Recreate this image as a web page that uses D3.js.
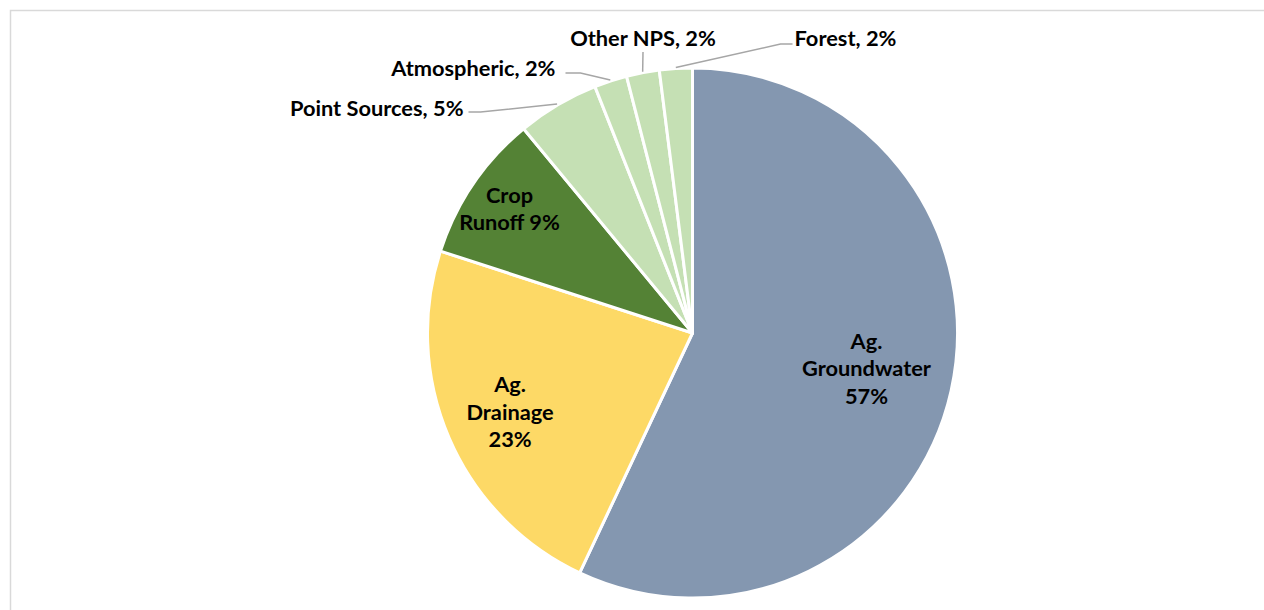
<!DOCTYPE html>
<html>
<head>
<meta charset="utf-8">
<script src="https://cdn.jsdelivr.net/npm/d3@7"></script>
<style>
  html, body { margin: 0; padding: 0; background: #fff; }
  svg { display: block; }
  text { font-family: Lato, "Open Sans", sans-serif; font-weight: 700; fill: #000; }
</style>
</head>
<body>
<svg id="chart" width="1264" height="610"></svg>
<script>
// Nutrient load shares by source, clockwise from 12 o'clock
const categories = ["Ag. Groundwater", "Ag. Drainage", "Crop Runoff", "Point Sources", "Atmospheric", "Other NPS", "Forest"];
const shares = [57, 23, 9, 5, 2, 2, 2];
const colors = ["#8497b0", "#fdd966", "#548235", "#c5e0b4", "#c5e0b4", "#c5e0b4", "#c5e0b4"];

// Label text lines for slices labelled inside the pie
const insideLines = {
  "Ag. Groundwater": ["Ag.", "Groundwater", "57%"],
  "Ag. Drainage": ["Ag.", "Drainage", "23%"],
  "Crop Runoff": ["Crop", "Runoff 9%"]
};

const svg = d3.select("#chart");
const W = 1264, H = 610;
const cx = 692.5, cy = 333, R = 265;
const fontSize = 21.8;

// chart area frame
svg.append("rect")
  .attr("x", 10.5).attr("y", 10.5)
  .attr("width", W + 20).attr("height", H + 20)
  .attr("fill", "none").attr("stroke", "#d9d9d9").attr("stroke-width", 1.5);

const data = categories.map((c, i) => ({ name: c, value: shares[i], color: colors[i] }));

const pie = d3.pie().value(d => d.value).sort(null);
const arcs = pie(data);
const arc = d3.arc().innerRadius(0).outerRadius(R);

const g = svg.append("g").attr("transform", `translate(${cx},${cy})`);

g.selectAll("path.slice")
  .data(arcs)
  .join("path")
  .attr("class", "slice")
  .attr("d", arc)
  .attr("fill", d => d.data.color)
  .attr("stroke", "#fff")
  .attr("stroke-width", 3)
  .attr("stroke-linejoin", "round");

// inside labels: radial placement factor per slice
const insideRadius = { "Ag. Groundwater": 0.665, "Ag. Drainage": 0.75, "Crop Runoff": 0.835 };
const lineH = 27.5;
arcs.filter(d => insideLines[d.data.name]).forEach(d => {
  const k = insideRadius[d.data.name];
  const [x, y] = d3.arc().innerRadius(R * k).outerRadius(R * k).centroid(d);
  const lines = insideLines[d.data.name];
  const t = g.append("text")
    .attr("text-anchor", "middle")
    .attr("font-size", fontSize);
  lines.forEach((ln, i) => {
    t.append("tspan")
      .attr("x", x + (d.data.name === "Ag. Groundwater" ? 2 : 0))
      .attr("y", y + (i - (lines.length - 1) / 2) * lineH - (d.data.name === "Ag. Groundwater" ? 3 : 0))
      .attr("dy", "0.35em")
      .text(ln);
  });
});

// outside labels with leader lines (elbow and text anchor, relative to pie centre)
const outside = {
  "Point Sources": { elbow: [-212, -221], end: [-224, -221], text: [-229, -225], anchor: "end" },
  "Atmospheric":   { elbow: [-112, -260], end: [-127, -260], text: [-137, -265], anchor: "end" },
  "Other NPS":     { elbow: [-49.5, -281], end: [-49.5, -281], text: [-49.5, -295], anchor: "middle" },
  "Forest":        { elbow: [88, -289], end: [100, -289], text: [102, -295], anchor: "start" }
};
const edge = d3.arc().innerRadius(R + 1).outerRadius(R + 1);
arcs.filter(d => outside[d.data.name]).forEach(d => {
  const o = outside[d.data.name];
  const p0 = edge.centroid(d);
  g.append("polyline")
    .attr("points", [p0, o.elbow, o.end].map(p => p.join(",")).join(" "))
    .attr("fill", "none")
    .attr("stroke", "#a6a6a6")
    .attr("stroke-width", 1.5);
  g.append("text")
    .attr("x", o.text[0]).attr("y", o.text[1])
    .attr("dy", "0.35em")
    .attr("text-anchor", o.anchor)
    .attr("font-size", fontSize)
    .text(`${d.data.name}, ${d.data.value}%`);
});
</script>
</body>
</html>
